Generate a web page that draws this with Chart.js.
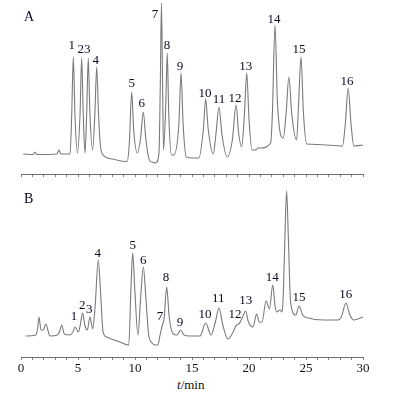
<!DOCTYPE html>
<html>
<head>
<meta charset="utf-8">
<script src="https://cdn.jsdelivr.net/npm/chart.js@4/dist/chart.umd.min.js"></script>
<style>
  body { margin: 0; background: #fff; }
  #wrap { position: relative; width: 400px; height: 393px; }
  #chartA { position: absolute; left: 0; top: 0; }
  #chartB { position: absolute; left: 0; top: 180px; }
  .xtitle { position: absolute; left: 177px; top: 377px; font: 13px "Liberation Serif", serif; color: #111; }
</style>
</head>
<body>
<div id="wrap">
  <canvas id="chartA" width="400" height="180"></canvas>
  <canvas id="chartB" width="400" height="197"></canvas>
  <div class="xtitle"><i>t</i>/min</div>
</div>
<script>
// chromatogram A (standards): retention time (min) / detector response
var timeA = [0.2, 1.05, 1.23, 1.4, 3.15, 3.33, 3.5, 4.3,
  4.45, 4.59, 4.73, 4.95, 5.18, 5.32, 5.46, 5.61, 5.76, 5.9, 6.04, 6.28,
  6.48, 6.64, 6.8, 6.95, 7.2, 8.0, 9.3,
  9.5, 9.71, 9.88, 10.2, 10.48, 10.73, 10.95, 11.3, 11.5, 11.8,
  12.1, 12.22, 12.32, 12.42, 12.5, 12.7, 12.83, 12.96, 13.2, 13.4,
  13.85, 14.04, 14.22, 14.5, 15.0, 15.6,
  16.0, 16.2, 16.42, 16.87, 17.1, 17.37, 17.62, 18.1,
  18.55, 18.86, 19.1, 19.36, 19.6, 19.8, 20.0, 20.26,
  20.6, 20.8, 21.0, 21.9, 22.05, 22.28, 22.5, 23.0,
  23.25, 23.5, 23.75, 24.18, 24.35, 24.56, 24.78, 25.06,
  26.0, 28.2, 28.45, 28.7, 28.95, 29.2, 30.0];
var signalA = [20, 19.5, 22, 19.5, 20, 24, 20, 20,
  60, 117, 60, 21, 60, 116, 60, 21, 60, 116, 62, 24,
  60, 107, 60, 30, 19, 15, 12.5,
  30, 82, 45, 21, 35, 62, 35, 13, 12, 11,
  20, 90, 171, 90, 24, 70, 121, 60, 19, 19,
  50, 101, 50, 17, 16, 16,
  45, 75, 45, 20, 40, 67, 40, 17,
  35, 69, 40, 27, 60, 101, 55, 24,
  24, 26, 26, 31, 60, 149, 70, 36,
  60, 97, 60, 34, 70, 117, 60, 30,
  29.5, 28, 50, 86, 50, 28, 29];

// chromatogram B (sample)
var timeB = [0.4, 1.3, 1.45, 1.58, 1.75, 1.96, 2.17, 2.54, 3.2, 3.4, 3.57, 3.8, 4.3,
  4.55, 4.74, 5.03, 5.2, 5.41, 5.6, 5.82, 6.05, 6.29,
  6.5, 6.78, 7.0, 7.2, 7.5, 8.68, 9.45,
  9.65, 9.8, 9.97, 10.26, 10.5, 10.73, 10.95, 11.2, 11.5, 11.75, 12.0,
  12.2, 12.4, 12.55, 12.78, 13.0, 13.36, 13.7, 14.0, 14.3, 14.8, 15.7,
  16.2, 16.67, 17.05, 17.37, 17.7, 18.16,
  18.6, 18.9, 19.1, 19.45, 19.7, 19.95, 20.35, 20.67, 20.9, 21.14,
  21.5, 21.8, 22.08, 22.3, 22.43, 22.72, 22.9,
  23.0, 23.15, 23.3, 23.45, 23.65, 24.1, 24.39, 24.7, 25.2,
  26.5, 27.8, 28.1, 28.5, 28.85, 29.2, 30.0];
var signalB = [21, 22, 28, 40, 27, 27, 33, 21, 22, 26, 32, 23, 22,
  25, 30, 25, 32, 44, 32, 27, 40, 28,
  50, 97, 60, 25, 20, 15, 12,
  70, 104, 70, 22, 60, 90, 60, 22, 14, 12, 12,
  22, 32, 38, 70, 40, 23, 22, 27, 22, 21, 21,
  34, 22, 35, 49, 32, 18,
  25, 32, 33, 40, 46, 35, 30, 43, 35, 35,
  56, 48, 72, 50, 45, 47, 45,
  60, 120, 166, 120, 55, 42, 51, 42, 39,
  37, 37, 40, 54, 42, 37, 40];

// peak numbers, where they are written (time, response level)
var peakNamesA = ['1', '23', '4', '5', '6', '7', '8', '9', '10', '11', '12', '13', '14', '15', '16'];
var peakTimesA = [4.45, 5.53, 6.55, 9.71, 10.59, 11.75, 12.81, 13.95, 16.14, 17.37, 18.77, 19.71, 22.19, 24.39, 28.6];
var peakLevelsA = [128, 124, 113, 90, 70, 159, 128, 107, 80, 74, 75, 107, 154, 124, 92];

var peakNamesB = ['1', '2', '3', '4', '5', '6', '7', '8', '9', '10', '11', '12', '13', '14', '15', '16'];
var peakTimesB = [4.65, 5.38, 5.99, 6.73, 9.8, 10.73, 12.19, 12.72, 13.95, 16.14, 17.31, 18.77, 19.71, 22.04, 24.39, 28.48];
var peakLevelsB = [40, 51, 47, 103, 111, 96, 40, 79, 34, 42, 58, 42, 56, 79, 59, 62];

var xTicks = [0, 5, 10, 15, 20, 25, 30];

function toPoints(ts, ys) {
  return ts.map(function (t, i) { return { x: t, y: ys[i] }; });
}

// writes the peak numbers and the panel letter
var peakLabelPlugin = {
  id: 'peakLabels',
  afterDatasetsDraw: function (chart, args, opts) {
    var ctx = chart.ctx;
    var xs = chart.scales.x, ys = chart.scales.y;
    ctx.save();
    ctx.fillStyle = '#0a0a1e';
    ctx.font = '13px "Liberation Serif", serif';
    ctx.textAlign = 'center';
    ctx.textBaseline = 'middle';
    opts.names.forEach(function (n, i) {
      ctx.fillText(n, xs.getPixelForValue(opts.times[i]), ys.getPixelForValue(opts.levels[i]));
    });
    ctx.font = '14px "Liberation Serif", serif';
    ctx.textAlign = 'left';
    ctx.fillText(opts.panel, opts.panelX, opts.panelY);
    ctx.restore();
  }
};

function makeChart(id, ts, ys, yMax, names, times, levels, panel, panelY, showLabels) {
  return new Chart(document.getElementById(id), {
    type: 'line',
    data: {
      datasets: [{
        data: toPoints(ts, ys),
        borderColor: '#7a7a7a',
        borderWidth: 1.1,
        pointRadius: 0,
        cubicInterpolationMode: 'monotone',
        clip: false
      }]
    },
    options: {
      responsive: false,
      animation: false,
      layout: { padding: { left: 21, right: 37, top: 0, bottom: 0 } },
      plugins: {
        legend: { display: false },
        tooltip: { enabled: false },
        peakLabels: { names: names, times: times, levels: levels, panel: panel, panelX: 24, panelY: panelY }
      },
      scales: {
        x: {
          type: 'linear',
          min: 0,
          max: 30,
          border: { color: '#707070', width: 1 },
          grid: { drawOnChartArea: false, drawTicks: true, tickLength: 3, color: '#808080' },
          ticks: {
            display: showLabels,
            stepSize: 1,
            autoSkip: false,
            maxRotation: 0,
            padding: 1,
            color: '#111',
            font: { family: 'Liberation Serif', size: 13 },
            callback: function (v) { return xTicks.indexOf(v) >= 0 ? String(v) : ''; }
          },
          afterFit: function (s) { s.height = showLabels ? 20 : 6; }
        },
        y: { display: false, min: 0, max: yMax }
      }
    },
    plugins: [peakLabelPlugin]
  });
}

makeChart('chartA', timeA, signalA, 174, peakNamesA, peakTimesA, peakLevelsA, 'A', 17, false);
makeChart('chartB', timeB, signalB, 177, peakNamesB, peakTimesB, peakLevelsB, 'B', 19, true);
</script>
</body>
</html>
